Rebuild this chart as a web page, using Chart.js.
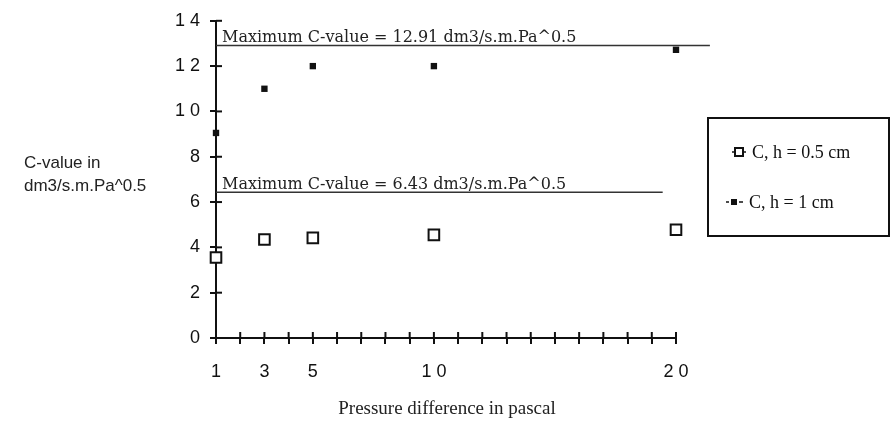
<!DOCTYPE html>
<html>
<head>
<meta charset="utf-8">
<script src="https://cdn.jsdelivr.net/npm/chart.js@4.4.1/dist/chart.umd.min.js"></script>
<style>
  body { margin: 0; background: #fff; }
  #wrap { width: 892px; height: 427px; }
</style>
</head>
<body>
<div id="wrap"><canvas id="chart-1" width="892" height="427"></canvas></div>
<script>
  // Données
  const pressures = [1, 3, 5, 10, 20];
  const cHalf = [3.55, 4.35, 4.42, 4.55, 4.78];   // C, h = 0.5 cm
  const cOne = [9.05, 11.0, 12.0, 12.0, 12.72];   // C, h = 1 cm
  const seriesLabels = ['C, h = 0.5 cm', 'C, h = 1 cm'];
  const xTickLabels = [1, 3, 5, 10, 20];
  const maxValues = [12.91, 6.43];
  const maxLineEnds = [21.4, 19.45];
  const maxTexts = ['Maximum C-value = 12.91 dm3/s.m.Pa^0.5', 'Maximum C-value = 6.43 dm3/s.m.Pa^0.5'];
  const yTitle = ['C-value in', 'dm3/s.m.Pa^0.5'];
  const xTitle = 'Pressure difference in pascal';

  const ink = '#111';

  function toPoints(ys) {
    return pressures.map(function (x, i) { return { x: x, y: ys[i] }; });
  }

  // ticks qui traversent les axes + lignes de maximum + légende
  const extras = {
    id: 'extras',
    beforeDatasetsDraw(chart) {
      const ctx = chart.ctx;
      const x = chart.scales.x, y = chart.scales.y;
      ctx.save();
      ctx.strokeStyle = ink;
      ctx.lineWidth = 2;
      // partie intérieure des ticks
      x.ticks.forEach(function (t) {
        const px = x.getPixelForValue(t.value);
        ctx.beginPath(); ctx.moveTo(px, y.bottom); ctx.lineTo(px, y.bottom - 6); ctx.stroke();
      });
      y.ticks.forEach(function (t) {
        const py = y.getPixelForValue(t.value);
        ctx.beginPath(); ctx.moveTo(x.left, py); ctx.lineTo(x.left + 6, py); ctx.stroke();
      });
      // lignes de maximum
      ctx.lineWidth = 1.5;
      ctx.strokeStyle = '#333';
      ctx.fillStyle = '#222';
      ctx.font = '16px "DejaVu Serif"';
      ctx.textBaseline = 'alphabetic';
      maxValues.forEach(function (v, i) {
        const py = y.getPixelForValue(v);
        ctx.beginPath();
        ctx.moveTo(x.left, py);
        ctx.lineTo(x.getPixelForValue(maxLineEnds[i]), py);
        ctx.stroke();
        ctx.fillText(maxTexts[i], x.left + 6, py - 3);
      });
      ctx.restore();
    },
    afterDraw(chart) {
      const ctx = chart.ctx;
      ctx.save();
      // titre axe y (horizontal, à gauche)
      ctx.fillStyle = '#222';
      ctx.font = '17px "Liberation Sans"';
      ctx.fillText(yTitle[0], 24, 168);
      ctx.fillText(yTitle[1], 24, 191);
      // titre axe x
      ctx.font = '19px "Liberation Serif"';
      ctx.textAlign = 'center';
      ctx.fillText(xTitle, 447, 414);
      ctx.textAlign = 'left';

      // légende
      ctx.strokeStyle = ink;
      ctx.lineWidth = 2;
      ctx.strokeRect(708, 118, 181, 118);
      ctx.font = '18px "Liberation Serif"';
      ctx.fillStyle = ink;
      const rows = [158, 208];
      // entrée 1
      ctx.lineWidth = 1.5;
      ctx.beginPath(); ctx.moveTo(732, rows[0] - 6); ctx.lineTo(746, rows[0] - 6); ctx.stroke();
      ctx.fillStyle = '#fff';
      ctx.fillRect(735, rows[0] - 10, 8, 8);
      ctx.lineWidth = 2;
      ctx.strokeRect(735, rows[0] - 10, 8, 8);
      ctx.fillStyle = ink;
      ctx.fillText(seriesLabels[0], 752, rows[0]);
      // entrée 2
      ctx.lineWidth = 1.5;
      ctx.beginPath(); ctx.moveTo(726, rows[1] - 6); ctx.lineTo(729, rows[1] - 6); ctx.stroke();
      ctx.beginPath(); ctx.moveTo(739, rows[1] - 6); ctx.lineTo(743, rows[1] - 6); ctx.stroke();
      ctx.fillRect(731, rows[1] - 9, 6, 6);
      ctx.fillText(seriesLabels[1], 749, rows[1]);
      ctx.restore();
    }
  };

  const ctx = document.getElementById('chart-1');
  new Chart(ctx, {
    type: 'scatter',
    data: {
      datasets: [
        {
          label: seriesLabels[0],
          data: toPoints(cHalf),
          pointStyle: 'rect',
          pointRadius: 7.5,
          borderWidth: 2,
          borderColor: ink,
          backgroundColor: '#fff',
          clip: false
        },
        {
          label: seriesLabels[1],
          data: toPoints(cOne),
          pointStyle: 'rect',
          pointRadius: 4.5,
          borderWidth: 0,
          borderColor: ink,
          backgroundColor: ink,
          clip: false
        }
      ]
    },
    options: {
      responsive: false,
      animation: false,
      layout: { padding: { top: 18, right: 216, bottom: 0, left: 0 } },
      plugins: { legend: { display: false }, tooltip: { enabled: false } },
      scales: {
        x: {
          type: 'linear',
          min: 1,
          max: 20,
          border: { color: ink, width: 2 },
          grid: { drawOnChartArea: false, tickLength: 6, color: ink, lineWidth: 2 },
          ticks: {
            stepSize: 1,
            autoSkip: false,
            maxRotation: 0,
            padding: 17,
            color: ink,
            font: { family: 'Liberation Sans', size: 18 },
            callback: function (v) {
              return xTickLabels.indexOf(v) >= 0 ? String(v).split('').join(' ') : '';
            }
          },
          afterFit: function (s) { s.height = 89; }
        },
        y: {
          min: 0,
          max: 14,
          border: { color: ink, width: 2 },
          grid: { drawOnChartArea: false, tickLength: 6, color: ink, lineWidth: 2 },
          ticks: {
            stepSize: 2,
            padding: 10,
            color: ink,
            font: { family: 'Liberation Sans', size: 18 },
            callback: function (v) { return String(v).split('').join(' '); }
          },
          afterFit: function (s) { s.width = 216; }
        }
      }
    },
    plugins: [extras]
  });
</script>
</body>
</html>
